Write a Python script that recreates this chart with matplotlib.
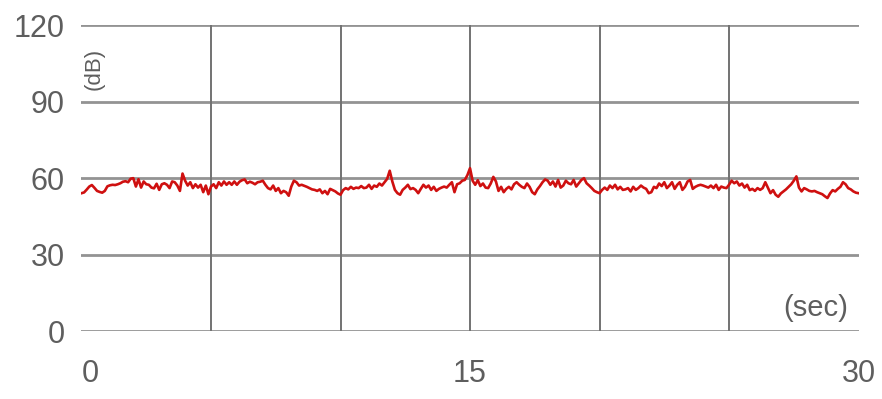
import numpy as np
import matplotlib
matplotlib.use("Agg")
import matplotlib.pyplot as plt

# sound level, one row per second (0.1 s steps)
level_db = [
    54.1, 54.4, 55.5, 56.7, 57.3, 56.2, 55.0, 54.6, 54.3, 55.0,
    56.8, 57.2, 57.4, 57.3, 57.6, 58.0, 58.6, 58.8, 58.4, 59.8,
    60.0, 56.7, 59.6, 56.3, 58.7, 57.6, 57.4, 56.3, 56.0, 57.8,
    55.4, 57.6, 58.0, 57.4, 56.1, 58.7, 58.4, 57.1, 55.0, 61.8,
    59.0, 57.1, 58.4, 56.1, 57.6, 56.3, 57.4, 54.5, 57.1, 53.7,
    56.7, 57.6, 56.1, 58.4, 57.1, 58.7, 57.4, 58.4, 57.4, 58.7,
    57.4, 58.6, 59.2, 59.5, 58.0, 58.6, 58.2, 57.6, 58.4, 58.6,
    59.0, 57.4, 56.1, 55.6, 57.1, 55.0, 56.1, 54.1, 55.0, 54.5,
    53.1, 56.7, 59.0, 58.4, 57.1, 57.4, 57.0, 56.6, 56.1, 55.6,
    55.4, 55.0, 55.6, 54.1, 55.0, 53.7, 55.8, 55.3, 54.8, 54.0,
    53.5, 55.3, 56.1, 55.6, 56.6, 55.8, 56.3, 56.1, 56.9, 56.1,
    56.3, 57.4, 55.8, 57.1, 56.6, 57.9, 57.1, 58.4, 59.7, 62.9,
    58.7, 55.4, 54.1, 53.5, 55.4, 56.3, 57.4, 55.7, 56.1, 55.4,
    54.1, 55.8, 57.4, 56.3, 57.1, 55.4, 56.6, 55.0, 55.8, 56.3,
    56.7, 56.3, 57.4, 58.4, 54.5, 57.6, 58.0, 59.0, 59.3, 61.2,
    63.9, 59.0, 57.4, 59.2, 56.9, 57.9, 56.3, 56.1, 57.9, 60.5,
    58.7, 55.0, 56.6, 54.5, 55.8, 56.6, 55.6, 57.6, 58.4, 57.4,
    56.6, 56.1, 57.9, 56.6, 54.5, 53.7, 55.6, 56.9, 58.4, 59.5,
    59.0, 57.4, 58.7, 56.7, 59.3, 56.3, 57.1, 59.0, 58.0, 57.6,
    59.3, 56.7, 58.0, 59.3, 60.0, 58.0, 57.1, 56.1, 55.0, 54.5,
    54.1, 55.4, 56.3, 55.4, 57.1, 56.1, 57.4, 55.6, 56.6, 55.4,
    55.6, 56.1, 54.8, 56.6, 55.4, 56.1, 57.1, 56.3, 55.8, 54.1,
    54.5, 56.6, 56.1, 57.9, 56.9, 58.4, 56.1, 57.1, 58.4, 55.8,
    57.4, 58.4, 55.4, 56.6, 58.7, 59.3, 55.8, 56.6, 57.1, 57.4,
    57.1, 56.7, 56.3, 57.1, 56.1, 57.4, 55.4, 56.7, 56.3, 56.1,
    57.4, 59.0, 58.0, 58.7, 57.1, 57.9, 56.3, 57.4, 55.3, 55.8,
    55.0, 56.1, 55.4, 56.1, 58.4, 56.3, 54.1, 55.3, 53.5, 52.7,
    54.0, 54.8, 55.6, 56.6, 57.6, 59.0, 60.7, 56.3, 54.8, 56.1,
    55.6, 55.0, 54.8, 55.0, 54.5, 54.1, 53.7, 52.9, 52.2, 54.0,
    55.3, 54.8, 55.8, 56.6, 58.4, 57.6, 56.1, 55.6, 54.8, 54.3,
    54.1,
]
time_s = np.linspace(0, 30, len(level_db))

y_ticks = [0, 30, 60, 90, 120]
x_grid = [5, 10, 15, 20, 25]
x_ticks = [0, 15, 30]
x_labels = ["0", "15", "30"]

plt.rcParams['font.family'] = ['Liberation Sans', 'DejaVu Sans']

fig = plt.figure(figsize=(8.82, 3.99), dpi=100)
ax = fig.add_axes([0.0924, 0.170, 0.881, 0.767])

for y in y_ticks:
    ax.axhline(y, color='#939393', lw=2.0, zorder=1)
for x in x_grid:
    ax.plot([x, x], [0, 120], color='#727272', lw=1.4, zorder=1)

ax.plot(time_s, level_db, color='#cf1010', lw=1.9, zorder=3)

ax.set_xlim(0, 30)
ax.set_ylim(0, 120)
for s in ax.spines.values():
    s.set_visible(False)

ax.set_yticks(y_ticks)
ax.set_yticklabels([str(v) for v in y_ticks])
ax.set_xticks(x_ticks)
ax.set_xticklabels(x_labels)
ax.tick_params(length=0, labelsize=22, labelcolor='#5e5e5e')
ax.tick_params(axis='y', pad=12)
ax.tick_params(axis='x', pad=20)
ax.get_xticklabels()[0].set_horizontalalignment('left')

ax.text(0.5, 103, '(dB)', rotation=90, ha='center', va='center',
        fontsize=16, color='#5e5e5e')
ax.text(29.6, 9, '(sec)', ha='right', va='center', fontsize=21, color='#5e5e5e')

fig.savefig('out.png', dpi=100)
